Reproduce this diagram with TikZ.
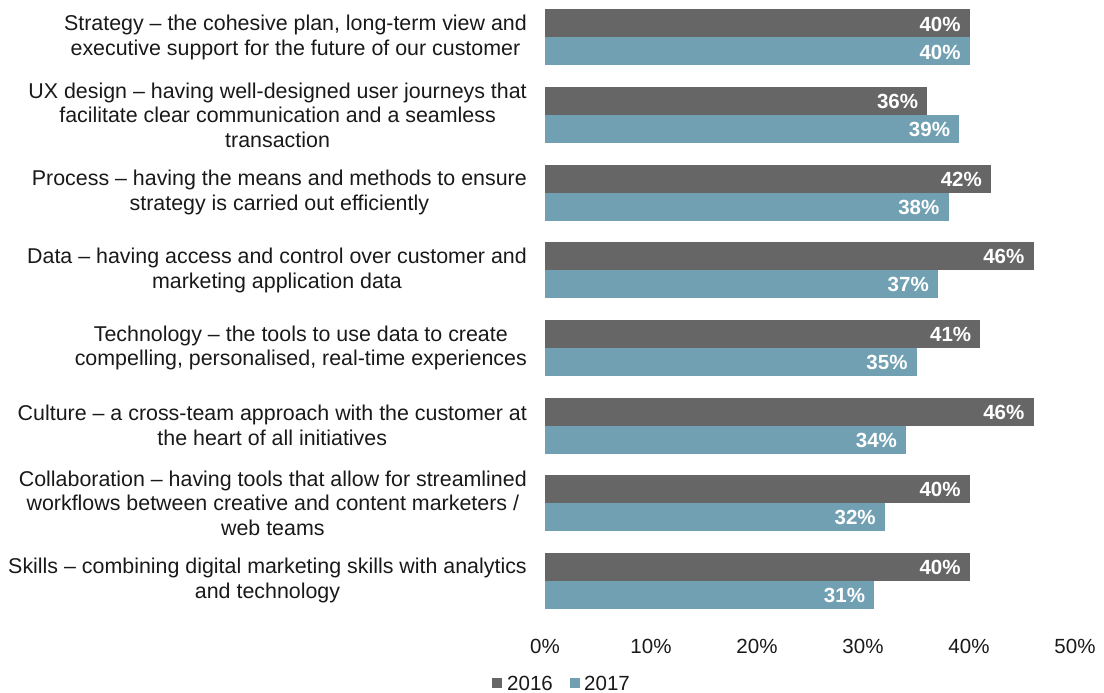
\documentclass[tikz,border=0pt]{standalone}
\usepackage{fontspec}
\setmainfont{Liberation Sans}
\definecolor{cA}{HTML}{666666}
\definecolor{cB}{HTML}{71A0B2}
\begin{document}
\begin{tikzpicture}[x=1pt,y=-1pt,
  cat/.style={anchor=east,align=center,font=\fontsize{21.4}{24.6}\selectfont,inner sep=0pt,text=black!90},
  val/.style={anchor=east,text=white,font=\fontsize{20.5}{22}\selectfont\bfseries,inner sep=0pt},
  tick/.style={font=\fontsize{20.5}{22}\selectfont,inner sep=0pt,text=black!90},
  leg/.style={anchor=west,font=\fontsize{20.5}{22}\selectfont,inner sep=0pt,text=black!90}]
\useasboundingbox (0,0) rectangle (1104,693);
\def\xo{545}
\def\sc{10.62}
\foreach \i/\a/\b/\t in {
 0/40/40/{Strategy -- the cohesive plan, long-term view and\\executive support for the future of our customer},
 1/36/39/{UX design -- having well-designed user journeys that\\facilitate clear communication and a seamless\\transaction},
 2/42/38/{Process -- having the means and methods to ensure\\strategy is carried out efficiently},
 3/46/37/{Data -- having access and control over customer and\\marketing application data},
 4/41/35/{Technology -- the tools to use data to create\\compelling, personalised, real-time experiences},
 5/46/34/{Culture -- a cross-team approach with the customer at\\the heart of all initiatives},
 6/40/32/{Collaboration -- having tools that allow for streamlined\\workflows between creative and content marketers /\\web teams},
 7/40/31/{Skills -- combining digital marketing skills with analytics\\and technology}} {
  \pgfmathsetmacro{\ya}{9.5+77.6*\i}
  \pgfmathsetmacro{\yb}{\ya+28}
  \pgfmathsetmacro{\yc}{\ya+56}
  \pgfmathsetmacro{\xa}{\xo+\sc*\a}
  \pgfmathsetmacro{\xb}{\xo+\sc*\b}
  \fill[cA] (\xo,\ya) rectangle (\xa,\yb);
  \fill[cB] (\xo,\yb) rectangle (\xb,\yc);
  \node[val] (va\i) at (\xa-9,\ya+14.5) {\a\%};
  \node[val] (vb\i) at (\xb-9,\yb+14.5) {\b\%};
  \node[cat] (lab\i) at (527,\yb) {\t};
}
\node[tick] (t0) at (\xo,646.5) {0\%};
\foreach \k in {1,...,5} {
  \node[tick] (t\k) at (\xo+106*\k,646.5) {\k0\%};
}
\fill[cA] (492,678) rectangle (502,688);
\node[leg] (l1) at (507,683.5) {2016};
\fill[cB] (570,678) rectangle (580,688);
\node[leg] (l2) at (584,683.5) {2017};
\end{tikzpicture}
\end{document}
